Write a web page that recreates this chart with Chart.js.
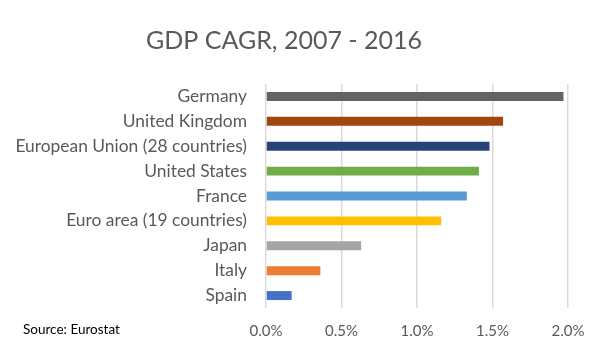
<!DOCTYPE html>
<html>
<head>
<meta charset="utf-8">
<script src="https://cdn.jsdelivr.net/npm/chart.js@4"></script>
<style>
  html, body { margin: 0; background: #fff; }
  canvas { display: block; }
</style>
</head>
<body>
<canvas id="gdp" width="611" height="354"></canvas>
<script>
// CAGR 2007-2016, percent
const countries = ['Germany', 'United Kingdom', 'European Union (28 countries)', 'United States',
  'France', 'Euro area (19 countries)', 'Japan', 'Italy', 'Spain'];
const cagr = [1.97, 1.57, 1.48, 1.41, 1.33, 1.16, 0.63, 0.36, 0.17];
const barColors = ['#636363', '#9e480e', '#264478', '#70ad47', '#5b9bd5', '#ffc000', '#a5a5a5', '#ed7d31', '#4472c4'];
const xTicks = [0, 0.5, 1, 1.5, 2];

const font = 'Lato';
const textColor = '#595959';

// small footnote in the bottom-left corner
const sourceNote = {
  id: 'sourceNote',
  afterDraw(chart) {
    const ctx = chart.ctx;
    ctx.save();
    ctx.font = '13.5px ' + font;
    ctx.fillStyle = '#000';
    ctx.textAlign = 'left';
    ctx.textBaseline = 'middle';
    ctx.fillText('Source: Eurostat', 23, 330);
    ctx.restore();
  }
};

new Chart(document.getElementById('gdp'), {
  type: 'bar',
  data: {
    labels: countries,
    datasets: [{
      data: cagr,
      backgroundColor: barColors,
      categoryPercentage: 1,
      barPercentage: 0.36
    }]
  },
  options: {
    indexAxis: 'y',
    responsive: false,
    animation: false,
    layout: { padding: { left: 0, right: 43, top: 0, bottom: 0 } },
    plugins: {
      legend: { display: false },
      tooltip: { enabled: false },
      title: {
        display: true,
        text: 'GDP CAGR, 2007 - 2016',
        color: textColor,
        font: { family: font, size: 25, weight: 'normal' },
        padding: { top: 26, bottom: 28 }
      }
    },
    scales: {
      x: {
        min: 0,
        max: 2,
        afterBuildTicks(scale) { scale.ticks = xTicks.map(v => ({ value: v })); },
        grid: { color: '#d9d9d9', lineWidth: 1.5, drawTicks: false },
        border: { display: false },
        ticks: {
          color: textColor,
          font: { family: font, size: 15 },
          padding: 14,
          callback: v => v.toFixed(1) + '%'
        }
      },
      y: {
        grid: { display: false, drawTicks: false },
        border: { display: false },
        afterFit(scale) { scale.width = 266; },
        ticks: {
          color: textColor,
          font: { family: font, size: 17.4 },
          padding: 19,
          autoSkip: false
        }
      }
    }
  },
  plugins: [sourceNote]
});
</script>
</body>
</html>
